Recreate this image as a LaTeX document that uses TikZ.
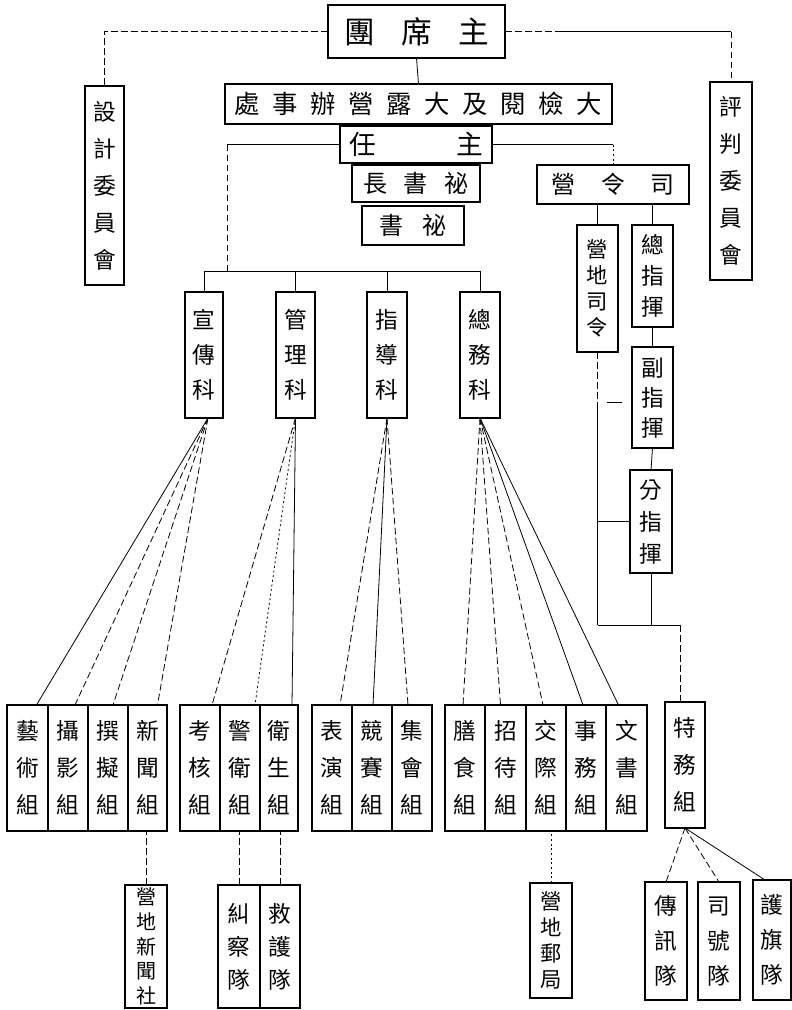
\documentclass[tikz,border=0pt]{standalone}
\usepackage{fontspec}
\newfontfamily\cjk{Noto Sans CJK TC}
\usetikzlibrary{calc}
\makeatletter
\newcommand\cjkstrut{\rule[-0.12em]{0pt}{1em}}
\newcommand\spreadtext[2]{\@tfor\sp@c:=#2\do{\makebox[#1]{\sp@c}}\cjkstrut}
\newcommand\vtext[1]{\vbox{\@tfor\sp@c:=#1\do{\hbox{\sp@c\cjkstrut}}}}
\makeatother
\newcommand\orgbox[7]{\node[box,#6,minimum width={(#4-#2)*0.75pt},minimum height={(#5-#3)*0.75pt}] (#1) at ({(#2+#4)/2},{(#3+#5)/2}) {#7};}
\begin{document}
\begin{tikzpicture}[x=0.75pt,y=-0.75pt,
  box/.style={draw, line width=1.4pt, inner sep=0pt, outer sep=0pt},
  ln/.style={line width=0.6pt},
  dl/.style={line width=0.6pt, dash pattern=on 5pt off 2.5pt},
  dt/.style={line width=0.6pt, dash pattern=on 1.5pt off 2pt},
  kf/.style={font=\cjk\fontsize{17}{26.25}\selectfont},
  gf/.style={font=\cjk\fontsize{17}{28}\selectfont}]
\useasboundingbox (0,0) rectangle (792,1010);

% top level
\orgbox{zxt}{328}{5}{505}{58}{font=\cjk\fontsize{23}{23}\selectfont}{\spreadtext{42.75pt}{團席主}}
\orgbox{sj}{85}{86}{124}{285}{font=\cjk\fontsize{17}{27.75}\selectfont}{\vtext{設計委員會}}
\orgbox{pp}{710}{82}{752}{280}{font=\cjk\fontsize{17}{27.75}\selectfont}{\vtext{評判委員會}}
\orgbox{dj}{225}{84}{612}{124}{font=\cjk\fontsize{19}{19}\selectfont}{\spreadtext{28.5pt}{處事辦營露大及閱檢大}}
\orgbox{zr}{340}{126}{492}{163}{font=\cjk\fontsize{20}{20}\selectfont}{任\hspace{60pt}主\cjkstrut}
\orgbox{msz}{352}{165}{480}{202}{font=\cjk\fontsize{18}{18}\selectfont}{\spreadtext{30.75pt}{長書祕}}
\orgbox{ms}{362}{206}{464}{245}{font=\cjk\fontsize{18}{18}\selectfont}{\spreadtext{32pt}{書祕}}
\orgbox{sly}{537}{165}{689}{204}{font=\cjk\fontsize{18}{18}\selectfont}{\spreadtext{37.5pt}{營令司}}

% sections
\orgbox{xc}{185}{292}{223}{418}{kf}{\vtext{宣傳科}}
\orgbox{gl}{276}{292}{315}{418}{kf}{\vtext{管理科}}
\orgbox{zd}{367}{292}{407}{418}{kf}{\vtext{指導科}}
\orgbox{zw}{460}{292}{500}{418}{kf}{\vtext{總務科}}

% camp command
\orgbox{ydsl}{577}{225}{618}{352}{font=\cjk\fontsize{16}{19.5}\selectfont}{\vtext{營地司令}}
\orgbox{zzh}{632}{225}{673}{327}{font=\cjk\fontsize{17}{23.25}\selectfont}{\vtext{總指揮}}
\orgbox{fzh}{632}{347}{673}{448}{font=\cjk\fontsize{17}{22.5}\selectfont}{\vtext{副指揮}}
\orgbox{fen}{630}{470}{672}{573}{font=\cjk\fontsize{17}{24}\selectfont}{\vtext{分指揮}}

% groups
\orgbox{ys}{7}{705}{48}{831}{gf}{\vtext{藝術組}}
\orgbox{sy}{48}{705}{88}{831}{gf}{\vtext{攝影組}}
\orgbox{zn}{88}{705}{128}{831}{gf}{\vtext{撰擬組}}
\orgbox{xw}{128}{705}{167}{831}{gf}{\vtext{新聞組}}
\orgbox{kh}{180}{705}{220}{831}{gf}{\vtext{考核組}}
\orgbox{jw}{220}{705}{260}{831}{gf}{\vtext{警衛組}}
\orgbox{ws}{260}{705}{298}{831}{gf}{\vtext{衛生組}}
\orgbox{by}{312}{705}{352}{831}{gf}{\vtext{表演組}}
\orgbox{js}{352}{705}{392}{831}{gf}{\vtext{競賽組}}
\orgbox{jh}{392}{705}{432}{831}{gf}{\vtext{集會組}}
\orgbox{ss}{445}{705}{485}{831}{gf}{\vtext{膳食組}}
\orgbox{zd2}{485}{705}{526}{831}{gf}{\vtext{招待組}}
\orgbox{jj}{526}{705}{566}{831}{gf}{\vtext{交際組}}
\orgbox{sw}{566}{705}{606}{831}{gf}{\vtext{事務組}}
\orgbox{wsz}{606}{705}{647}{831}{gf}{\vtext{文書組}}
\orgbox{tw}{665}{702}{705}{828}{gf}{\vtext{特務組}}

% bottom units
\orgbox{xws}{125}{885}{167}{1008}{font=\cjk\fontsize{15}{18.5}\selectfont}{\vtext{營地新聞社}}
\orgbox{jc}{218}{885}{260}{1008}{font=\cjk\fontsize{17}{24.75}\selectfont}{\vtext{糾察隊}}
\orgbox{jh2}{260}{885}{300}{1008}{font=\cjk\fontsize{17}{24.75}\selectfont}{\vtext{救護隊}}
\orgbox{yj}{530}{883}{572}{998}{font=\cjk\fontsize{16}{19.5}\selectfont}{\vtext{營地郵局}}
\orgbox{cx}{645}{882}{687}{1000}{font=\cjk\fontsize{17}{26}\selectfont}{\vtext{傳訊隊}}
\orgbox{sh}{698}{882}{740}{1000}{font=\cjk\fontsize{17}{26}\selectfont}{\vtext{司號隊}}
\orgbox{hq}{753}{880}{791}{1000}{font=\cjk\fontsize{17}{26}\selectfont}{\vtext{護旗隊}}

% top connectors
\coordinate (sc) at (sj.north |- zxt.west);
\draw[dl] (zxt.west) -- (sc) -- (sj.north);
\coordinate (pm) at (555,31.5);
\coordinate (pc) at (pp.north |- zxt.east);
\draw[dl] (zxt.east) -- (pm);
\draw[ln] (pm) -- (pc);
\draw[dl] (pc) -- (pp.north);
\draw[ln] (zxt.south) -- (dj.north);

% from 主任
\coordinate (kl) at (227,271);
\draw[ln] (zr.west) -- (zr.west -| kl);
\draw[dl] (zr.west -| kl) -- (kl);
\draw[ln] (xc.north |- kl) -- (zw.north |- kl);
\foreach \n in {xc,gl,zd,zw} \draw[ln] (\n.north) -- (\n.north |- kl);
\coordinate (rc) at (sly.north |- zr.east);
\draw[ln] (zr.east) -- (rc);
\draw[dt] (rc) -- (sly.north);

% command chain
\draw[ln] (ydsl.north) -- (ydsl.north |- sly.south);
\draw[ln] (zzh.north) -- (zzh.north |- sly.south);
\draw[ln] (zzh.south) -- (fzh.north);
\draw[ln] (fzh.south) -- (fen.north);
\coordinate (yb) at (ydsl.south |- 0,625);
\coordinate (ym) at (ydsl.south |- 0,405);
\draw[dl] (ydsl.south) -- (ym);
\draw[ln] (ym) -- (yb);
\coordinate (t1) at (607,402);
\draw[ln] (t1) -- ++(15,0);
\draw[ln] (fen.west) -- (fen.west -| yb);
\draw[ln] (fen.south) -- (fen.south |- yb);
\coordinate (tb) at (680,625);
\draw[ln] (yb) -- (tb);
\draw[dl] (tb) -- (tb |- tw.north);

% fans
\draw[ln] ($(xc.south)+(4,0)$) -- ($(ys.north)+(9,0)$);
\draw[dl] ($(xc.south)+(4,0)$) -- ($(sy.north)+(7,0)$);
\draw[dl] ($(xc.south)+(4,0)$) -- ($(zn.north)+(5,0)$);
\draw[dl] ($(xc.south)+(4,0)$) -- ($(xw.north)+(10,0)$);

\draw[dl] (gl.south) -- ($(kh.north)+(12,0)$);
\draw[dt] (gl.south) -- ($(jw.north)+(15,0)$);
\draw[ln] (gl.south) -- ($(ws.north)+(13,0)$);

\draw[dl] (zd.south) -- ($(by.north)+(8,0)$);
\draw[ln] (zd.south) -- ($(js.north)+(1,0)$);
\draw[dl] (zd.south) -- ($(jh.north)+(-4,0)$);

\draw[dl] (zw.south) -- ($(ss.north)+(-2,0)$);
\draw[dl] (zw.south) -- ($(zd2.north)+(-5,0)$);
\draw[dl] (zw.south) -- ($(jj.north)+(-3,0)$);
\draw[ln] (zw.south) -- ($(sw.north)+(-3,0)$);
\draw[ln] (zw.south) -- ($(wsz.north)+(-8,0)$);

% lower links
\draw[dl] (xws.north) -- (xws.north |- xw.south);
\draw[dl] (jc.north) -- (jc.north |- jw.south);
\draw[dl] (jh2.north) -- (jh2.north |- ws.south);
\draw[dt] (yj.north) -- (yj.north |- jj.south);
\draw[dl] (tw.south) -- (cx.north);
\draw[dl] (tw.south) -- (sh.north);
\draw[ln] (tw.south) -- ($(hq.north)+(-7,0)$);
\end{tikzpicture}
\end{document}
